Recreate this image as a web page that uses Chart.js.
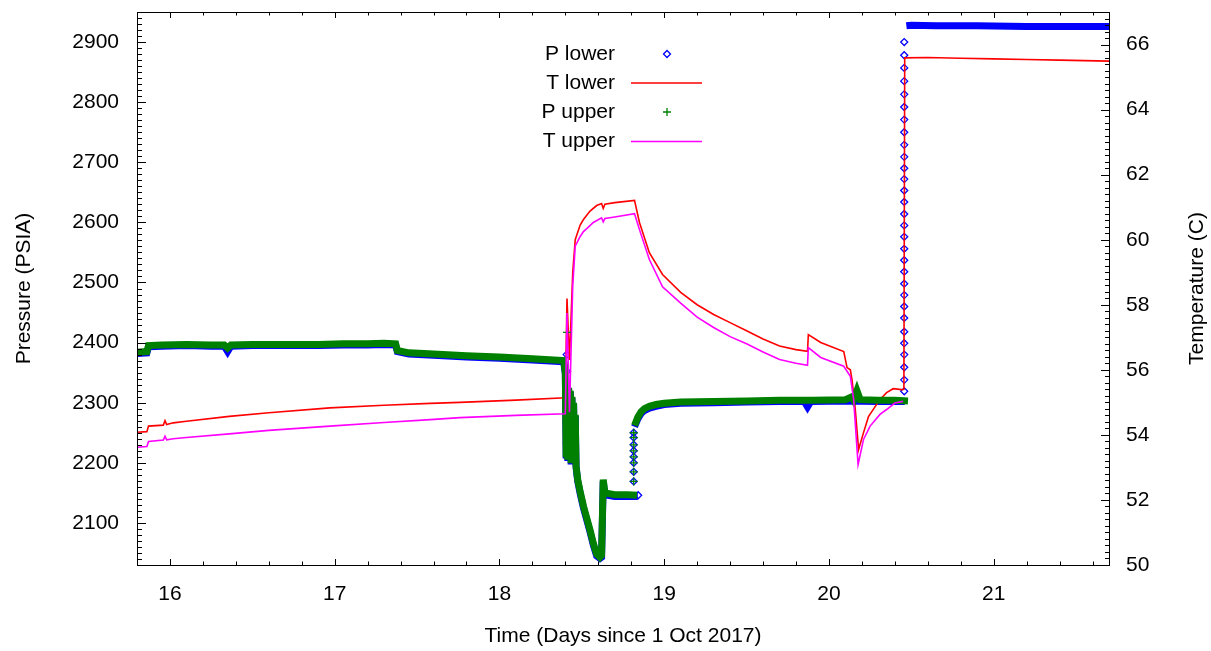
<!DOCTYPE html>
<html>
<head>
<meta charset="utf-8">
<script src="https://cdn.jsdelivr.net/npm/chart.js@4.4.1/dist/chart.umd.min.js"></script>
<style>
  html, body { margin: 0; padding: 0; background: #fff; }
  #wrap { width: 1211px; height: 651px; position: relative; }
</style>
</head>
<body>
<div id="wrap"><canvas id="chart"></canvas></div>
<script>
const FONT = '"Liberation Sans", Arial, sans-serif';

// P lower (dense trace), null = break in the trace
const pLowerDays = [15.80, 15.86, 15.87, 15.95, 16.10, 16.25, 16.33, 16.35, 16.37, 16.50, 16.70, 16.90, 17.05, 17.20, 17.30, 17.37, 17.38, 17.45, 17.60, 17.80, 18.00, 18.20, 18.39,
  18.40, 18.405, 18.41, 18.415, 18.42, 18.425, 18.43, 18.435, 18.44, 18.445, 18.45, 18.455, 18.46, 18.465, 18.475,
  18.49, 18.51, 18.53, 18.55, 18.57, 18.59, 18.61, 18.62, 18.63, 18.64, 18.70, 18.78, 18.84, 18.841,
  18.82, 18.84, 18.86, 18.88, 18.91, 18.95, 19.00, 19.10, 19.30, 19.50, 19.70, 19.85, 19.87, 19.89, 20.10, 20.30, 20.46, 20.465,
  20.47, 20.50, 20.65, 20.90, 21.20, 21.50, 21.70];
const pLowerPsi = [2382, 2383, 2393, 2394, 2395, 2394, 2394, 2385, 2394, 2395, 2395, 2395, 2396, 2396, 2397, 2396, 2385, 2381, 2379, 2376, 2374, 2371, 2368,
  2348, 2213, 2328, 2203, 2323, 2208, 2318, 2203, 2308, 2208, 2298, 2203, 2278, 2193, 2170,
  2149, 2125, 2105, 2085, 2063, 2045, 2041, 2043, 2169, 2147, 2144, 2144, 2144, null,
  2260, 2273, 2282, 2287, 2291, 2294, 2297, 2299, 2300, 2301, 2302, 2302, 2293, 2302, 2303, 2302, 2302, null,
  2927, 2928, 2927, 2927, 2926, 2926, 2926];

// P lower isolated points (fast transitions)
const pLowerJumpDays = [18.408, 18.41, 18.409, 18.412, 18.41, 18.413, 18.41, 18.412, 18.409, 18.411,
  18.842,
  18.815, 18.815, 18.815, 18.815, 18.815, 18.815, 18.815, 18.815,
  20.457, 20.457, 20.457, 20.457, 20.457, 20.457, 20.457, 20.457, 20.457, 20.457, 20.457, 20.457, 20.457, 20.457, 20.457, 20.457,
  20.457, 20.457, 20.457, 20.457, 20.457, 20.457, 20.457, 20.457, 20.457, 20.457, 20.457, 20.457, 20.457, 20.457];
const pLowerJumpPsi = [2380, 2352, 2335, 2318, 2300, 2283, 2266, 2250, 2233, 2216,
  2146,
  2169, 2185, 2200, 2210, 2220, 2230, 2242, 2250,
  2319, 2338, 2359, 2380, 2399, 2418, 2441, 2460, 2479, 2498, 2518, 2537, 2556, 2576, 2595, 2614,
  2634, 2653, 2672, 2690, 2709, 2729, 2750, 2771, 2792, 2813, 2835, 2857, 2878, 2900];

// P upper (dense trace)
const pUpperDays = [15.80, 15.86, 15.87, 15.95, 16.10, 16.25, 16.33, 16.35, 16.37, 16.50, 16.70, 16.90, 17.05, 17.20, 17.30, 17.37, 17.38, 17.45, 17.60, 17.80, 18.00, 18.20, 18.39,
  18.40, 18.405, 18.41, 18.415, 18.42, 18.425, 18.43, 18.435, 18.44, 18.445, 18.45, 18.455, 18.46, 18.465, 18.475,
  18.49, 18.51, 18.53, 18.55, 18.57, 18.59, 18.61, 18.62, 18.63, 18.64, 18.70, 18.78, 18.835, 18.836,
  18.82, 18.84, 18.86, 18.88, 18.91, 18.95, 19.00, 19.10, 19.30, 19.50, 19.70, 19.90, 20.10, 20.14, 20.15, 20.17, 20.19, 20.30, 20.40, 20.48];
const pUpperPsi = [2384, 2385, 2395, 2396, 2397, 2396, 2396, 2391, 2396, 2397, 2397, 2397, 2398, 2398, 2399, 2398, 2387, 2383, 2381, 2378, 2376, 2373, 2370,
  2350, 2215, 2330, 2205, 2325, 2210, 2320, 2205, 2310, 2210, 2300, 2205, 2280, 2195, 2172,
  2152, 2128, 2108, 2088, 2066, 2048, 2043, 2046, 2172, 2150, 2147, 2147, 2146, null,
  2262, 2276, 2285, 2290, 2294, 2297, 2299, 2301, 2302, 2303, 2304, 2304, 2305, 2310, 2305, 2320, 2305, 2304, 2304, 2303];

// P upper isolated points
const pUpperJumpDays = [18.41, 18.815, 18.815, 18.815, 18.815, 18.815, 18.815, 18.815, 18.815];
const pUpperJumpPsi = [2417, 2169, 2185, 2200, 2210, 2220, 2230, 2242, 2250];

// T lower
const tLowerDays = [15.80, 15.86, 15.87, 15.96, 15.97, 15.98, 16.02, 16.10, 16.36, 16.60, 16.97, 17.30, 17.58, 17.76, 18.10, 18.40,
  18.41, 18.425, 18.445, 18.46, 18.49, 18.51, 18.55, 18.59, 18.62, 18.63, 18.64, 18.70, 18.82, 18.85, 18.91, 18.99,
  19.10, 19.20, 19.30, 19.40, 19.50, 19.60, 19.70, 19.80, 19.87, 19.875, 19.95, 20.09, 20.11, 20.13, 20.14, 20.16, 20.18,
  20.21, 20.24, 20.31, 20.35, 20.39, 20.44, 20.455, 20.46, 20.60, 20.80, 21.00, 21.20, 21.40, 21.70];
const tLowerC = [54.08, 54.10, 54.27, 54.30, 54.44, 54.32, 54.37, 54.42, 54.57, 54.68, 54.83, 54.91, 54.97, 55.00, 55.07, 55.14,
  58.19, 56.30, 59.00, 60.00, 60.45, 60.62, 60.88, 61.05, 61.11, 60.96, 61.09, 61.14, 61.21, 60.53, 59.60, 58.93,
  58.38, 58.00, 57.70, 57.45, 57.20, 56.95, 56.73, 56.62, 56.57, 57.08, 56.84, 56.56, 56.07, 56.00, 55.70, 54.78, 53.55,
  54.07, 54.56, 55.09, 55.30, 55.42, 55.39, 55.40, 65.59, 65.60, 65.58, 65.56, 65.54, 65.52, 65.49];

// T upper
const tUpperDays = [15.80, 15.86, 15.87, 15.96, 15.97, 15.98, 16.02, 16.10, 16.36, 16.60, 16.97, 17.30, 17.58, 17.76, 18.10, 18.40,
  18.41, 18.425, 18.445, 18.46, 18.49, 18.51, 18.53, 18.57, 18.62, 18.63, 18.64, 18.70, 18.82, 18.85, 18.91, 18.99,
  19.10, 19.20, 19.30, 19.40, 19.50, 19.60, 19.70, 19.80, 19.87, 19.875, 19.95, 20.09, 20.13, 20.15, 20.177,
  20.21, 20.25, 20.31, 20.35, 20.40, 20.45];
const tUpperC = [53.62, 53.64, 53.80, 53.84, 53.96, 53.85, 53.88, 53.92, 54.03, 54.14, 54.27, 54.38, 54.47, 54.53, 54.60, 54.65,
  57.75, 54.70, 58.60, 59.80, 60.10, 60.25, 60.34, 60.53, 60.67, 60.55, 60.65, 60.70, 60.80, 60.31, 59.39, 58.55,
  58.05, 57.62, 57.30, 57.02, 56.80, 56.55, 56.32, 56.20, 56.14, 56.68, 56.38, 56.11, 55.80, 55.09, 53.09,
  53.86, 54.27, 54.63, 54.78, 54.98, 55.03];

const legendLabels = ['P lower', 'T lower', 'P upper', 'T upper'];

const BLUE = '#0000ff', RED = '#ff0000', GREEN = '#008000', MAGENTA = '#ff00ff';

function pairs(xs, ys) {
  return xs.map((x, i) => ({ x: x, y: ys[i] }));
}

// Chart.js reserves room for half of the end labels; gnuplot doesn't
function noPad(s) {
  s.paddingTop = 0; s.paddingBottom = 0; s.paddingLeft = 0; s.paddingRight = 0;
}

// gnuplot style frame, inward tics, titles and key
const gnuplotDecor = {
  id: 'gnuplotDecor',
  afterDraw(chart) {
    const ctx = chart.ctx;
    const a = chart.chartArea;
    const sx = chart.scales.x, sy = chart.scales.y, sy2 = chart.scales.y2;
    ctx.save();
    ctx.strokeStyle = '#000';
    ctx.lineWidth = 1;

    ctx.beginPath();
    for (let i = 79; i <= 108; i++) {
      const px = Math.round(sx.getPixelForValue(i / 5)) + 0.5;
      const len = i % 5 === 0 ? 6 : 3.5;
      ctx.moveTo(px, a.bottom); ctx.lineTo(px, a.bottom - len);
      ctx.moveTo(px, a.top); ctx.lineTo(px, a.top + len);
    }
    for (let i = 203; i <= 295; i++) {
      const py = Math.round(sy.getPixelForValue(i * 10)) + 0.5;
      const len = i % 10 === 0 ? 9 : 5;
      ctx.moveTo(a.left, py); ctx.lineTo(a.left + len, py);
    }
    for (let i = 250; i <= 335; i++) {
      const py = Math.round(sy2.getPixelForValue(i / 5)) + 0.5;
      const len = i % 10 === 0 ? 8 : 4;
      ctx.moveTo(a.right, py); ctx.lineTo(a.right - len, py);
    }
    ctx.stroke();

    ctx.strokeRect(Math.round(a.left) + 0.5, Math.round(a.top) + 0.5,
      Math.round(a.right - a.left), Math.round(a.bottom - a.top));

    ctx.fillStyle = '#000';
    ctx.font = '21px ' + FONT;
    ctx.textBaseline = 'middle';
    ctx.textAlign = 'center';
    ctx.fillText('Time (Days since 1 Oct 2017)', (a.left + a.right) / 2, 636);

    ctx.save();
    ctx.translate(24, (a.top + a.bottom) / 2);
    ctx.rotate(-Math.PI / 2);
    ctx.fillText('Pressure (PSIA)', 0, 0);
    ctx.restore();

    ctx.save();
    ctx.translate(1197, (a.top + a.bottom) / 2);
    ctx.rotate(-Math.PI / 2);
    ctx.fillText('Temperature (C)', 0, 0);
    ctx.restore();

    // key
    const rows = [54, 83, 112, 141.5];
    ctx.textAlign = 'right';
    legendLabels.forEach((lab, i) => ctx.fillText(lab, 615, rows[i]));

    ctx.lineWidth = 1.6;
    ctx.strokeStyle = RED;
    ctx.beginPath(); ctx.moveTo(631, rows[1]); ctx.lineTo(702, rows[1]); ctx.stroke();
    ctx.strokeStyle = MAGENTA;
    ctx.beginPath(); ctx.moveTo(631, rows[3]); ctx.lineTo(702, rows[3]); ctx.stroke();

    ctx.lineWidth = 1.3;
    ctx.fillStyle = 'rgba(0,0,0,0)';
    ctx.strokeStyle = BLUE;
    Chart.helpers.drawPoint(ctx, { pointStyle: 'rectRot', radius: 3.5, rotation: 0, borderWidth: 1.3 }, 667, rows[0]);
    ctx.strokeStyle = GREEN;
    Chart.helpers.drawPoint(ctx, { pointStyle: 'cross', radius: 4, rotation: 0, borderWidth: 1.3 }, 667, rows[2]);
    ctx.restore();
  }
};

new Chart(document.getElementById('chart'), {
  type: 'line',
  data: {
    datasets: [
      { label: 'P lower', data: pairs(pLowerDays, pLowerPsi), yAxisID: 'y', borderColor: BLUE, borderWidth: 7,
        pointRadius: 0, tension: 0, fill: false, order: 6 },
      { label: 'P lower', data: pairs(pLowerJumpDays, pLowerJumpPsi), yAxisID: 'y', showLine: false,
        pointStyle: 'rectRot', pointRadius: 3.5, pointBorderColor: BLUE, pointBackgroundColor: 'rgba(0,0,0,0)',
        pointBorderWidth: 1.3, order: 5 },
      { label: 'T lower', data: pairs(tLowerDays, tLowerC), yAxisID: 'y2', borderColor: RED, borderWidth: 1.6,
        pointRadius: 0, tension: 0, fill: false, order: 4 },
      { label: 'P upper', data: pairs(pUpperDays, pUpperPsi), yAxisID: 'y', borderColor: GREEN, borderWidth: 7,
        pointRadius: 0, tension: 0, fill: false, order: 3 },
      { label: 'P upper', data: pairs(pUpperJumpDays, pUpperJumpPsi), yAxisID: 'y', showLine: false,
        pointStyle: 'cross', pointRadius: 4, pointBorderColor: GREEN, pointBorderWidth: 1.3, order: 2 },
      { label: 'T upper', data: pairs(tUpperDays, tUpperC), yAxisID: 'y2', borderColor: MAGENTA, borderWidth: 1.6,
        pointRadius: 0, tension: 0, fill: false, order: 1 }
    ]
  },
  options: {
    responsive: true,
    maintainAspectRatio: false,
    animation: false,
    events: [],
    layout: { padding: { top: 12, left: 0, right: 0, bottom: 0 } },
    plugins: { legend: { display: false }, tooltip: { enabled: false } },
    scales: {
      x: {
        type: 'linear', position: 'bottom', min: 15.8, max: 21.7,
        afterFit: s => { s.height = 86; noPad(s); },
        grid: { display: false, drawTicks: false },
        border: { display: false },
        ticks: { stepSize: 1, includeBounds: false, padding: 17, color: '#000',
          font: { family: FONT, size: 21 }, callback: v => String(v) }
      },
      y: {
        type: 'linear', position: 'left', min: 2030, max: 2950,
        afterFit: s => { s.width = 137; noPad(s); },
        grid: { display: false, drawTicks: false },
        border: { display: false },
        ticks: { stepSize: 100, includeBounds: false, padding: 18, color: '#000',
          font: { family: FONT, size: 21 }, callback: v => String(v) }
      },
      y2: {
        type: 'linear', position: 'right', min: 50, max: 67,
        afterFit: s => { s.width = 102; noPad(s); },
        grid: { display: false, drawTicks: false },
        border: { display: false },
        ticks: { stepSize: 2, includeBounds: false, padding: 17, color: '#000',
          font: { family: FONT, size: 21 }, callback: v => String(v) }
      }
    }
  },
  plugins: [gnuplotDecor]
});
</script>
</body>
</html>
